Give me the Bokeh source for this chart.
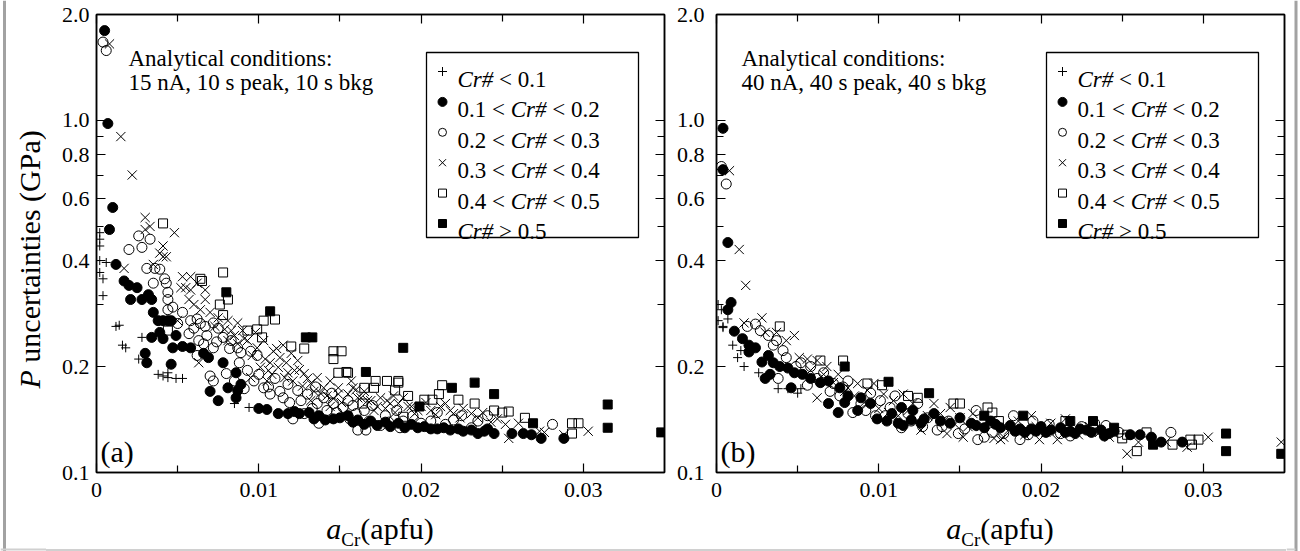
import math
from bokeh.plotting import figure
from bokeh.layouts import row, column
from bokeh.models import FixedTicker, LinearAxis, LogAxis, Range1d, Label, Div
from bokeh.embed import file_html
from bokeh.resources import INLINE

# ---------------- data ----------------
X_TICKS = [0.0, 0.01, 0.02, 0.03]
X_TICK_LABELS = ["0", "0.01", "0.02", "0.03"]
X_MINOR_TICKS = [0.005, 0.015, 0.025]
Y_TICKS = [0.1, 0.2, 0.4, 0.6, 0.8, 1.0, 2.0]
Y_TICK_LABELS = ["0.1", "0.2", "0.4", "0.6", "0.8", "1.0", "2.0"]
Y_MINOR_TICKS = [0.3, 0.5, 0.7, 0.9]
X_RANGE = (0.0, 0.035)
Y_RANGE = (0.1, 2.0)

PANEL_TAGS = ["(a)", "(b)"]
PANEL_NOTES = [["Analytical conditions:", "15 nA, 10 s peak, 10 s bkg"],
               ["Analytical conditions:", "40 nA, 40 s peak, 40 s bkg"]]
Y_TITLE = [("P", "italic"), ("uncertainties (GPa)", "normal")]
X_TITLE = [("a", "italic"), ("Cr", "sub"), ("(apfu)", "normal")]

# legend labels: (text, style) pieces
LEGEND_LABELS = [
    [("Cr#", "italic"), (" < 0.1", "normal")],
    [("0.1 < ", "normal"), ("Cr#", "italic"), (" < 0.2", "normal")],
    [("0.2 < ", "normal"), ("Cr#", "italic"), (" < 0.3", "normal")],
    [("0.3 < ", "normal"), ("Cr#", "italic"), (" < 0.4", "normal")],
    [("0.4 < ", "normal"), ("Cr#", "italic"), (" < 0.5", "normal")],
    [("Cr#", "italic"), (" > 0.5", "normal")],
]

# panel (a): 15 nA, 10 s
A_LT01 = [(0.0002, 0.48), (0.0002, 0.46), (0.0002, 0.44), (0.0002, 0.40), (0.0002, 0.37),
          (0.0006, 0.395), (0.0004, 0.355), (0.0004, 0.318), (0.0012, 0.26), (0.0014, 0.262),
          (0.0016, 0.23), (0.0018, 0.226), (0.0028, 0.242), (0.0026, 0.21), (0.0038, 0.19),
          (0.0041, 0.188), (0.0044, 0.186), (0.0049, 0.185), (0.0053, 0.185), (0.0044, 0.192),
          (0.0085, 0.157), (0.0094, 0.153)]
A_01_02 = [(0.0005, 1.80), (0.0007, 0.98), (0.0010, 0.566), (0.0008, 0.49), (0.0012, 0.39),
           (0.0017, 0.35), (0.0020, 0.34), (0.0025, 0.335), (0.0021, 0.31), (0.0028, 0.31),
           (0.0032, 0.32), (0.0034, 0.31), (0.0035, 0.285), (0.0038, 0.27), (0.0041, 0.27),
           (0.0044, 0.27), (0.0046, 0.27), (0.0034, 0.242), (0.0039, 0.25), (0.0041, 0.24),
           (0.0049, 0.245), (0.0047, 0.226), (0.0053, 0.228), (0.0058, 0.226), (0.0030, 0.218),
           (0.0031, 0.205), (0.0046, 0.203), (0.0066, 0.218), (0.0069, 0.212), (0.0078, 0.205),
           (0.0086, 0.192), (0.0089, 0.178), (0.0081, 0.174), (0.0070, 0.17), (0.0075, 0.16),
           (0.0087, 0.171), (0.0086, 0.163), (0.0100, 0.152), (0.0105, 0.151), (0.0112, 0.147),
           (0.0118, 0.147), (0.0122, 0.149), (0.0125, 0.147), (0.0131, 0.148), (0.0146, 0.142),
           (0.0155, 0.145), (0.0158, 0.139), (0.0161, 0.141), (0.0165, 0.137), (0.0169, 0.14),
           (0.0173, 0.136), (0.0178, 0.139), (0.0181, 0.135), (0.0186, 0.138), (0.0190, 0.134),
           (0.0194, 0.137), (0.0198, 0.134), (0.0202, 0.135), (0.0206, 0.133), (0.0210, 0.133),
           (0.0214, 0.134), (0.0218, 0.132), (0.0223, 0.133), (0.0226, 0.131), (0.0231, 0.132),
           (0.0235, 0.129), (0.0239, 0.131), (0.0241, 0.133), (0.0245, 0.129), (0.0256, 0.129),
           (0.0263, 0.129), (0.0268, 0.128), (0.0274, 0.125), (0.0288, 0.125), (0.0137, 0.145),
           (0.0141, 0.141), (0.0150, 0.143), (0.0134, 0.142)]
A_02_03 = [(0.0004, 1.67), (0.0006, 1.58), (0.0020, 0.43), (0.0026, 0.47), (0.0028, 0.436),
           (0.0033, 0.46), (0.0031, 0.38), (0.0036, 0.38), (0.0042, 0.355), (0.0039, 0.378),
           (0.0035, 0.345), (0.0043, 0.345), (0.0044, 0.325), (0.0044, 0.31), (0.0047, 0.295),
           (0.0044, 0.29), (0.0058, 0.27), (0.0062, 0.273), (0.0064, 0.265), (0.0067, 0.26),
           (0.0072, 0.266), (0.0075, 0.257), (0.0060, 0.257), (0.0057, 0.248), (0.0063, 0.237),
           (0.0066, 0.232), (0.0062, 0.215), (0.0072, 0.226), (0.0078, 0.242), (0.0083, 0.237),
           (0.0087, 0.226), (0.0089, 0.219), (0.0095, 0.221), (0.0099, 0.215), (0.0070, 0.188),
           (0.0072, 0.182), (0.0080, 0.191), (0.0085, 0.182), (0.0091, 0.173), (0.0097, 0.182),
           (0.0103, 0.174), (0.0107, 0.167), (0.0115, 0.163), (0.0124, 0.171), (0.0130, 0.167),
           (0.0136, 0.157), (0.0140, 0.163), (0.0146, 0.157), (0.0152, 0.153), (0.0160, 0.147),
           (0.0165, 0.150), (0.0128, 0.147), (0.0121, 0.142), (0.0137, 0.138), (0.0161, 0.132),
           (0.0166, 0.132), (0.0175, 0.136), (0.0187, 0.134), (0.0189, 0.140), (0.0206, 0.140),
           (0.0231, 0.134), (0.0235, 0.140), (0.0241, 0.145), (0.0281, 0.137), (0.0135, 0.175),
           (0.0145, 0.168), (0.0155, 0.160), (0.0170, 0.155), (0.0185, 0.150), (0.0195, 0.145),
           (0.0210, 0.148), (0.0225, 0.145), (0.0050, 0.265), (0.0053, 0.285), (0.0110, 0.185),
           (0.0118, 0.178), (0.0126, 0.160), (0.0142, 0.150), (0.0158, 0.155), (0.0178, 0.145),
           (0.0068, 0.245), (0.0074, 0.235), (0.0082, 0.225), (0.0088, 0.205), (0.0093, 0.195),
           (0.0100, 0.190), (0.0106, 0.175), (0.0113, 0.170), (0.0119, 0.158), (0.0133, 0.152),
           (0.0148, 0.148), (0.0156, 0.142), (0.0168, 0.140), (0.0180, 0.139), (0.0200, 0.138),
           (0.0215, 0.137), (0.0220, 0.141)]
A_03_04 = [(0.0008, 1.65), (0.0015, 0.90), (0.0022, 0.70), (0.0030, 0.53), (0.0030, 0.49),
           (0.0033, 0.50), (0.0041, 0.44), (0.0048, 0.48), (0.0039, 0.42), (0.0041, 0.41),
           (0.0017, 0.38), (0.0035, 0.39), (0.0043, 0.41), (0.0053, 0.36), (0.0058, 0.36),
           (0.0055, 0.335), (0.0058, 0.33), (0.0062, 0.345), (0.0067, 0.33), (0.0057, 0.31),
           (0.0052, 0.335), (0.0067, 0.31), (0.0075, 0.275), (0.0081, 0.27), (0.0087, 0.266),
           (0.0090, 0.253), (0.0050, 0.27), (0.0083, 0.253), (0.0081, 0.237), (0.0087, 0.232),
           (0.0093, 0.237), (0.0099, 0.226), (0.0103, 0.237), (0.0109, 0.221), (0.0113, 0.212),
           (0.0120, 0.218), (0.0124, 0.208), (0.0112, 0.199), (0.0118, 0.192), (0.0121, 0.182),
           (0.0128, 0.191), (0.0132, 0.179), (0.0136, 0.186), (0.0140, 0.174), (0.0144, 0.182),
           (0.0149, 0.174), (0.0155, 0.167), (0.0158, 0.174), (0.0163, 0.163), (0.0169, 0.160),
           (0.0175, 0.163), (0.0181, 0.157), (0.0189, 0.163), (0.0194, 0.154), (0.0063, 0.205),
           (0.0095, 0.186), (0.0101, 0.199), (0.0105, 0.182), (0.0132, 0.160), (0.0144, 0.154),
           (0.0152, 0.147), (0.0157, 0.182), (0.0149, 0.167), (0.0161, 0.163), (0.0167, 0.160),
           (0.0173, 0.154), (0.0186, 0.157), (0.0192, 0.154), (0.0196, 0.147), (0.0200, 0.154),
           (0.0206, 0.150), (0.0212, 0.154), (0.0215, 0.157), (0.0220, 0.147), (0.0226, 0.152),
           (0.0231, 0.147), (0.0235, 0.143), (0.0243, 0.139), (0.0254, 0.125), (0.0260, 0.138),
           (0.0273, 0.131), (0.0276, 0.130), (0.0288, 0.128), (0.0303, 0.131), (0.0107, 0.205),
           (0.0115, 0.230), (0.0098, 0.250), (0.0106, 0.195), (0.0117, 0.205), (0.0125, 0.196),
           (0.0134, 0.170), (0.0142, 0.165), (0.0165, 0.170), (0.0178, 0.152), (0.0184, 0.148),
           (0.0060, 0.300), (0.0064, 0.290), (0.0070, 0.285), (0.0073, 0.260), (0.0079, 0.255),
           (0.0085, 0.245), (0.0091, 0.240), (0.0096, 0.215), (0.0104, 0.210), (0.0108, 0.190),
           (0.0111, 0.225), (0.0116, 0.186), (0.0122, 0.195), (0.0127, 0.176), (0.0130, 0.185),
           (0.0138, 0.168), (0.0146, 0.162), (0.0151, 0.158), (0.0160, 0.172), (0.0171, 0.150),
           (0.0179, 0.160), (0.0183, 0.165), (0.0198, 0.150), (0.0203, 0.158), (0.0209, 0.146),
           (0.0218, 0.150), (0.0224, 0.143), (0.0238, 0.148), (0.0247, 0.142), (0.0252, 0.137)]
A_04_05 = [(0.0041, 0.51), (0.0064, 0.355), (0.0078, 0.37), (0.0065, 0.35), (0.0081, 0.31),
           (0.0076, 0.30), (0.0078, 0.28), (0.0044, 0.253), (0.0103, 0.27), (0.0110, 0.272),
           (0.0093, 0.253), (0.0099, 0.255), (0.0102, 0.242), (0.0120, 0.228), (0.0128, 0.225),
           (0.0146, 0.221), (0.0151, 0.221), (0.0146, 0.21), (0.0149, 0.192), (0.0155, 0.192),
           (0.0165, 0.174), (0.0172, 0.182), (0.0179, 0.182), (0.0186, 0.182), (0.0164, 0.157),
           (0.0171, 0.174), (0.0192, 0.165), (0.0189, 0.144), (0.0154, 0.193), (0.0186, 0.18),
           (0.0184, 0.171), (0.0202, 0.161), (0.0207, 0.161), (0.0213, 0.177), (0.0211, 0.167),
           (0.0223, 0.161), (0.0233, 0.157), (0.0245, 0.150), (0.0250, 0.148), (0.0254, 0.149),
           (0.0264, 0.143), (0.0293, 0.138), (0.0297, 0.138), (0.0293, 0.129)]
A_GT05 = [(0.0080, 0.325), (0.0107, 0.287), (0.0129, 0.242), (0.0133, 0.242), (0.0189, 0.226),
          (0.0166, 0.193), (0.0219, 0.174), (0.0233, 0.180), (0.0245, 0.167), (0.0199, 0.154),
          (0.0269, 0.138), (0.0315, 0.156), (0.0315, 0.134), (0.0348, 0.130)]

# panel (b): 40 nA, 40 s
B_LT01 = [(0.0001, 0.30), (0.0001, 0.27), (0.0004, 0.258), (0.0007, 0.273), (0.0004, 0.26),
          (0.0010, 0.23), (0.0015, 0.222), (0.0013, 0.212), (0.0017, 0.20), (0.0026, 0.192),
          (0.0038, 0.173), (0.0044, 0.173), (0.0050, 0.168), (0.0052, 0.173), (0.0003, 0.29)]
B_01_02 = [(0.0004, 0.95), (0.0004, 0.725), (0.0007, 0.45), (0.0009, 0.304), (0.0007, 0.29),
           (0.0011, 0.252), (0.0016, 0.24), (0.0020, 0.23), (0.0024, 0.226), (0.0020, 0.22),
           (0.0028, 0.206), (0.0032, 0.215), (0.0035, 0.205), (0.0039, 0.20), (0.0044, 0.198),
           (0.0030, 0.185), (0.0033, 0.19), (0.0046, 0.174), (0.0048, 0.192), (0.0053, 0.19),
           (0.0058, 0.185), (0.0064, 0.18), (0.0069, 0.182), (0.0069, 0.157), (0.0075, 0.148),
           (0.0076, 0.174), (0.0081, 0.165), (0.0079, 0.158), (0.0087, 0.15), (0.0089, 0.163),
           (0.0095, 0.157), (0.0099, 0.142), (0.0105, 0.14), (0.0112, 0.138), (0.0115, 0.136),
           (0.0120, 0.141), (0.0126, 0.138), (0.0114, 0.153), (0.0121, 0.15), (0.0134, 0.147),
           (0.0144, 0.138), (0.0150, 0.143), (0.0157, 0.138), (0.0165, 0.134), (0.0169, 0.14),
           (0.0175, 0.134), (0.0181, 0.136), (0.0187, 0.133), (0.0190, 0.13), (0.0194, 0.133),
           (0.0200, 0.135), (0.0206, 0.132), (0.0212, 0.134), (0.0218, 0.131), (0.0224, 0.133),
           (0.0231, 0.13), (0.0237, 0.132), (0.0239, 0.127), (0.0242, 0.129), (0.0245, 0.131),
           (0.0255, 0.128), (0.0261, 0.128), (0.0268, 0.126), (0.0274, 0.122), (0.0287, 0.122),
           (0.0108, 0.147), (0.0128, 0.142), (0.0138, 0.140), (0.0160, 0.136), (0.0172, 0.137),
           (0.0184, 0.131), (0.0197, 0.131), (0.0203, 0.130), (0.0215, 0.130), (0.0221, 0.129),
           (0.0228, 0.132)]
B_02_03 = [(0.0003, 0.74), (0.0006, 0.66), (0.0019, 0.26), (0.0024, 0.264), (0.0027, 0.253),
           (0.0032, 0.245), (0.0037, 0.237), (0.0035, 0.23), (0.0041, 0.222), (0.0043, 0.212),
           (0.0038, 0.185), (0.0056, 0.177), (0.0052, 0.205), (0.0058, 0.20), (0.0066, 0.192),
           (0.0072, 0.179), (0.0081, 0.182), (0.0084, 0.148), (0.0089, 0.157), (0.0095, 0.168),
           (0.0101, 0.16), (0.0107, 0.153), (0.0114, 0.134), (0.0118, 0.147), (0.0124, 0.157),
           (0.0130, 0.143), (0.0136, 0.132), (0.0143, 0.14), (0.0149, 0.129), (0.0161, 0.124),
           (0.0165, 0.126), (0.0177, 0.129), (0.0183, 0.145), (0.0187, 0.124), (0.0240, 0.136),
           (0.0233, 0.138), (0.0280, 0.13), (0.0212, 0.129), (0.0195, 0.14), (0.0205, 0.137),
           (0.0225, 0.135), (0.0160, 0.15), (0.0110, 0.165), (0.0078, 0.175), (0.0049, 0.200),
           (0.0062, 0.185), (0.0070, 0.170), (0.0076, 0.165), (0.0092, 0.150), (0.0098, 0.145),
           (0.0104, 0.145), (0.0120, 0.140), (0.0127, 0.135), (0.0139, 0.135), (0.0153, 0.133),
           (0.0170, 0.130), (0.0192, 0.128), (0.0218, 0.127), (0.0248, 0.130)]
B_03_04 = [(0.0008, 0.72), (0.0014, 0.43), (0.0018, 0.34), (0.0017, 0.266), (0.0028, 0.275),
           (0.0030, 0.25), (0.0037, 0.25), (0.0043, 0.237), (0.0048, 0.245), (0.0051, 0.212),
           (0.0056, 0.21), (0.0062, 0.208), (0.0068, 0.20), (0.0062, 0.163), (0.0075, 0.19),
           (0.0081, 0.174), (0.0087, 0.179), (0.0093, 0.171), (0.0097, 0.179), (0.0103, 0.167),
           (0.0109, 0.16), (0.0115, 0.167), (0.0121, 0.157), (0.0126, 0.132), (0.0134, 0.157),
           (0.0138, 0.147), (0.0144, 0.153), (0.0150, 0.143), (0.0142, 0.129), (0.0152, 0.126),
           (0.0158, 0.147), (0.0167, 0.14), (0.0171, 0.125), (0.0175, 0.124), (0.0186, 0.14),
           (0.0190, 0.128), (0.0177, 0.126), (0.0194, 0.145), (0.0199, 0.124), (0.0206, 0.138),
           (0.0210, 0.124), (0.0223, 0.128), (0.0242, 0.126), (0.0253, 0.113), (0.0260, 0.122),
           (0.0277, 0.122), (0.0290, 0.118), (0.0303, 0.126), (0.0348, 0.122), (0.0215, 0.142),
           (0.0230, 0.135), (0.0058, 0.195), (0.0066, 0.190), (0.0072, 0.180), (0.0079, 0.170),
           (0.0085, 0.165), (0.0091, 0.158), (0.0100, 0.152), (0.0106, 0.148), (0.0112, 0.145),
           (0.0118, 0.150), (0.0130, 0.145), (0.0140, 0.140), (0.0147, 0.137), (0.0155, 0.135),
           (0.0163, 0.135), (0.0180, 0.132), (0.0197, 0.135), (0.0203, 0.130), (0.0218, 0.135),
           (0.0236, 0.130)]
B_04_05 = [(0.0039, 0.26), (0.0064, 0.208), (0.0078, 0.208), (0.0093, 0.179), (0.0102, 0.177),
           (0.0118, 0.165), (0.0124, 0.163), (0.0146, 0.157), (0.0150, 0.157), (0.0167, 0.153),
           (0.0170, 0.148), (0.0174, 0.14), (0.0232, 0.136), (0.0250, 0.125), (0.0253, 0.128),
           (0.0259, 0.115), (0.0265, 0.13), (0.0281, 0.12), (0.0292, 0.124), (0.0293, 0.12),
           (0.0297, 0.124), (0.0215, 0.14)]
B_GT05 = [(0.0079, 0.20), (0.0106, 0.181), (0.0131, 0.168), (0.0165, 0.145), (0.0189, 0.145),
          (0.0218, 0.14), (0.0232, 0.14), (0.0245, 0.134), (0.0269, 0.12), (0.0314, 0.129),
          (0.0314, 0.115), (0.0348, 0.113)]

PANEL_SERIES = [[A_LT01, A_01_02, A_02_03, A_03_04, A_04_05, A_GT05],
                [B_LT01, B_01_02, B_02_03, B_03_04, B_04_05, B_GT05]]

# ---------------- styling ----------------
FONT = "'Times New Roman', 'Liberation Serif', serif"
INK = "#000000"
FRAME_GREY = "#a2a2a2"
EDGE_GREY = "#d0d0d0"
STYLES = [("cross", 9, None), ("circle", 10, INK), ("circle", 10, None),
          ("x", 13, None), ("square", 9, None), ("square", 9, INK)]
LEG_STYLES = [("cross", 9, None), ("circle", 9, INK), ("circle", 8, None),
              ("x", 10, None), ("square", 8, None), ("square", 8, INK)]
DRAW_ORDER = [3, 2, 4, 0, 1, 5]

NORMAL_W = {c: 0.5 for c in "0123456789#pu"}
NORMAL_W.update({".": 0.25, " ": 0.25, "<": 0.564, ">": 0.564, "C": 0.667, "r": 0.333,
                 "(": 0.333, ")": 0.333, "a": 0.444, "f": 0.333})
ITALIC_W = {"C": 0.667, "r": 0.389, "#": 0.5, "a": 0.5, "P": 0.611, " ": 0.25}


def tw(s, style, size):
    table = ITALIC_W if style == "italic" else NORMAL_W
    return sum(table.get(c, 0.5) for c in s) * size


FIG_H = 551
PANEL_H = 508
FRAME_T, FRAME_H, FRAME_W = 14, 458, 568


def add_label(p, x, y, s, size, style="normal", align="left", baseline="alphabetic", angle=0.0):
    p.add_layout(Label(x=x, y=y, text=s, text_font=FONT, text_font_size=f"{size}px",
                       text_font_style=style, text_color=INK, text_align=align,
                       text_baseline=baseline, angle=angle))


def strip(width, height):
    """A plain drawing area in pixel units (y measured up from its bottom)."""
    s = figure(width=width, height=height, x_range=Range1d(0, width), y_range=Range1d(0, height),
               output_backend="svg", toolbar_location=None, title=None,
               x_axis_location=None, y_axis_location=None, min_border=0)
    s.grid.visible = False
    s.outline_line_color = None
    s.background_fill_color = "white"
    s.border_fill_color = "white"
    return s


def make_panel(k, fig_w, border_l, border_r, standoff):
    p = figure(width=fig_w, height=PANEL_H, x_range=Range1d(*X_RANGE),
               y_range=Range1d(*Y_RANGE), y_axis_type="log", title=None,
               output_backend="svg", toolbar_location=None,
               min_border_left=border_l, min_border_right=border_r,
               min_border_top=FRAME_T, min_border_bottom=PANEL_H - FRAME_T - FRAME_H)
    p.grid.visible = False
    p.outline_line_color = INK
    p.outline_line_width = 1.5
    p.background_fill_color = "white"
    p.border_fill_color = "white"

    L, T, W, H = border_l, FRAME_T, FRAME_W, FRAME_H
    ly0, ly1 = math.log10(Y_RANGE[0]), math.log10(Y_RANGE[1])

    def conv(px, py):
        x = X_RANGE[0] + (px - L) / W * (X_RANGE[1] - X_RANGE[0])
        y = 10 ** (ly0 + (T + H - py) / H * (ly1 - ly0))
        return x, y

    xt = FixedTicker(ticks=X_TICKS, minor_ticks=X_MINOR_TICKS)
    yt = FixedTicker(ticks=Y_TICKS, minor_ticks=Y_MINOR_TICKS)

    bx = p.xaxis[0]
    by = p.yaxis[0]
    tx = LinearAxis()
    ry = LogAxis()
    p.add_layout(tx, "above")
    p.add_layout(ry, "right")
    for ax, tk in ((bx, xt), (tx, xt), (by, yt), (ry, yt)):
        ax.ticker = tk
        ax.axis_line_color = INK
        ax.axis_line_width = 1.5
        ax.major_tick_line_color = INK
        ax.minor_tick_line_color = INK
        ax.major_tick_line_width = 1.2
        ax.minor_tick_line_width = 1.2
        ax.major_tick_in = 9
        ax.major_tick_out = 0
        ax.minor_tick_in = 7
        ax.minor_tick_out = 0
        ax.major_label_text_font = FONT
        ax.major_label_text_color = INK
        ax.axis_label = None
    bx.major_label_overrides = dict(zip(X_TICKS, X_TICK_LABELS))
    bx.major_label_text_font_size = "22px"
    bx.major_label_standoff = 10
    by.major_label_overrides = dict(zip(Y_TICKS, Y_TICK_LABELS))
    by.major_label_text_font_size = "22px"
    by.major_label_standoff = standoff
    for ax, ticks in ((tx, X_TICKS), (ry, Y_TICKS)):
        ax.major_label_overrides = {t: "" for t in ticks}
        ax.major_label_text_font_size = "1px"
        ax.major_label_standoff = 0

    def label(px, py, s, size, style="normal"):
        x, y = conv(px, py)
        add_label(p, x, y, s, size, style=style)

    for i in DRAW_ORDER:
        pts = PANEL_SERIES[k][i]
        mk, sz, fill = STYLES[i]
        p.scatter([a for a, _ in pts], [b for _, b in pts], marker=mk, size=sz,
                  line_color=INK, line_width=1.0, fill_color=fill)

    # legend box
    lx0 = L + 330
    lx1 = lx0 + 212
    (qx0, qy0), (qx1, qy1) = conv(lx0, 237), conv(lx1, 52)
    p.quad(left=[qx0], right=[qx1], bottom=[qy0], top=[qy1],
           fill_color="white", line_color=INK, line_width=1.3)
    for r, parts in enumerate(LEGEND_LABELS):
        cy = 71 + r * 30.4
        mk, sz, fill = LEG_STYLES[r]
        mx, my = conv(lx0 + 16, cy)
        p.scatter([mx], [my], marker=mk, size=sz, line_color=INK, line_width=1.0,
                  fill_color=fill)
        cur = lx0 + 31
        for s, st in parts:
            lead = len(s) - len(s.lstrip(" "))
            trail = len(s) - len(s.rstrip(" "))
            cur += tw(" " * lead, st, 23)
            core = s.strip(" ")
            label(cur, cy + 8, core, 23, style=st)
            cur += tw(core, st, 23) + tw(" " * trail, st, 23)

    nx = L + 32 if k == 0 else L + 25
    label(nx, 58, PANEL_NOTES[k][0], 23)
    label(nx, 82, PANEL_NOTES[k][1], 23)
    label(L + 4, 451, PANEL_TAGS[k], 30)
    return p


def x_title_div(width, center):
    pad = 2 * center - width
    pieces = []
    for t, st in X_TITLE:
        if st == "italic":
            pieces.append(f"<i>{t}</i>")
        elif st == "sub":
            pieces.append(f'<span style="font-size:19px;position:relative;top:7px;">{t}</span>')
        else:
            pieces.append(t)
    inner = "".join(pieces)
    html = (f'<div style="box-sizing:border-box;width:{width}px;height:{FIG_H - PANEL_H}px;'
            f'border-bottom:2px solid {EDGE_GREY};background:white;margin:0;padding:0;">'
            f'<div style="margin:0 0 0 {pad}px;width:{width - pad}px;text-align:center;'
            f'font-family:{FONT};font-size:30px;line-height:30px;color:black;'
            f'padding-top:6px;white-space:nowrap;">{inner}</div></div>')
    return Div(text=html, width=width, height=FIG_H - PANEL_H, margin=0)


LEFT_W, RIGHT_W = 46, 14
A_BL, A_BR = 50, 2
B_BL, B_BR = 50, 2
A_W = A_BL + FRAME_W + A_BR
B_W = B_BL + FRAME_W + B_BR

pa = make_panel(0, A_W, A_BL, A_BR, 7)
pb = make_panel(1, B_W, B_BL, B_BR, 12)
xa = x_title_div(A_W, A_BL + FRAME_W / 2)
xb = x_title_div(B_W, B_BL + FRAME_W / 2)

left = strip(LEFT_W, FIG_H)
left.quad(left=[2.5], right=[5.5], bottom=[0], top=[FIG_H], fill_color=FRAME_GREY, line_color=None)
left.quad(left=[0], right=[LEFT_W], bottom=[1], top=[3], fill_color=EDGE_GREY, line_color=None)
ycur = FIG_H - 388
for t, st in Y_TITLE:
    add_label(left, 29, ycur, t, 30, style=st, baseline="middle", angle=math.pi / 2)
    ycur += tw(t + " ", st, 30)

right = strip(RIGHT_W, FIG_H)
right.quad(left=[8], right=[11], bottom=[0], top=[FIG_H], fill_color=FRAME_GREY, line_color=None)
right.quad(left=[0], right=[9], bottom=[1], top=[3], fill_color=EDGE_GREY, line_color=None)

layout = row(left, column(pa, xa, spacing=0), column(pb, xb, spacing=0), right, spacing=0)

open("out.html", "w").write(file_html(layout, INLINE))
